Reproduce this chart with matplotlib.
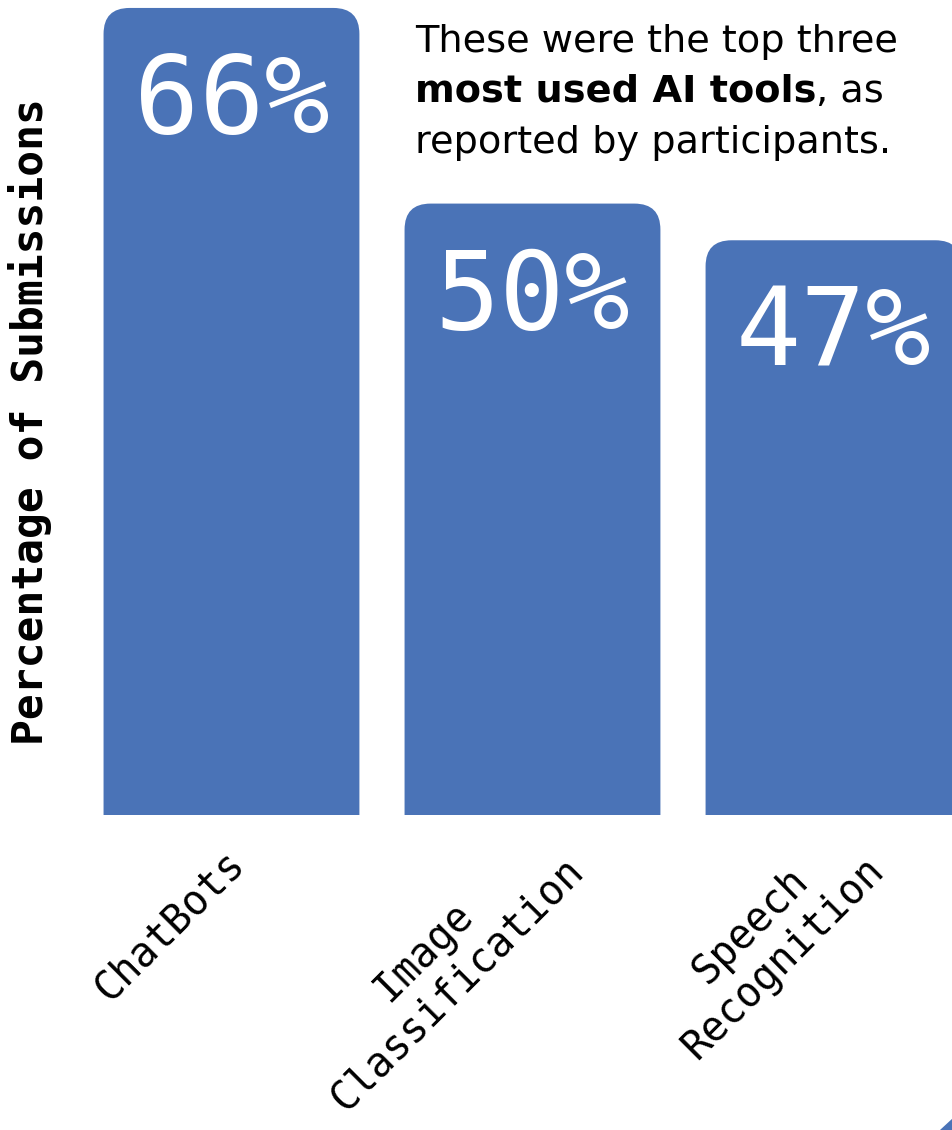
import matplotlib
matplotlib.use("Agg")
import matplotlib.pyplot as plt
import matplotlib.transforms as mtransforms
from matplotlib.patches import FancyBboxPatch, Polygon

# data
tools = ["ChatBots", "Image\nClassification", "Speech\nRecognition"]
shares = [66, 50, 47]
value_labels = ["66%", "50%", "47%"]

bar_color = "#4a73b7"
mono = "DejaVu Sans Mono"

fig = plt.figure(figsize=(9.53, 11.3), dpi=100)
ax = fig.add_axes([0, 0.2788, 1, 0.7212])
ax.set_xlim(-0.769, 2.397)
ax.set_ylim(0, 66.65)

width = 0.85
# px per data unit, used to keep the corner radius round
px_x = 953 / (2.397 + 0.769)
px_y = 1130 * 0.7212 / 66.65
r = 26 / px_x

for i, (v, lab) in enumerate(zip(shares, value_labels)):
    box = FancyBboxPatch((i - width / 2, -10), width, v + 10,
                         boxstyle=f"round,pad=0,rounding_size={r}",
                         mutation_aspect=px_x / px_y,
                         fc=bar_color, ec="none")
    ax.add_patch(box)
    ax.annotate(lab, xy=(i, v), xytext=(0, -90), textcoords="offset points",
                ha="center", va="baseline", color="white",
                fontsize=78, family=mono)

ax.set_xticks(range(len(tools)))
ax.set_xticklabels(tools, rotation=45, ha="right", va="center",
                   rotation_mode="anchor", multialignment="center",
                   family=mono, fontsize=29)
ax.tick_params(axis="x", length=0, pad=31)
# nudge labels so they sit like the original
for t, lab in zip(ax.get_xticklabels(), tools):
    if "\n" in lab:
        off = mtransforms.ScaledTranslation(0.28, 0.10, fig.dpi_scale_trans)
    else:
        off = mtransforms.ScaledTranslation(0.07, 0.0, fig.dpi_scale_trans)
    t.set_transform(t.get_transform() + off)
ax.set_yticks([])
for s in ax.spines.values():
    s.set_visible(False)

fig.text(30 / 953, (1130 - 422) / 1130, "Percentage of Submissions",
         rotation=90, ha="center", va="center", family=mono, fontsize=31,
         fontweight="bold")

# note text
tfont = "DejaVu Sans"
fs = 27.5
x0 = 415 / 953
ax.text(x0, (1130 - 52) / 1130, "These were the top three",
        transform=fig.transFigure, fontsize=fs, family=tfont, va="baseline")
b = ax.text(x0, (1130 - 102) / 1130, "most used AI tools",
            transform=fig.transFigure, fontsize=fs, family=tfont,
            fontweight="bold", va="baseline")
ax.annotate(", as", xy=(1, 0), xycoords=b, xytext=(0, 0),
            textcoords="offset points", fontsize=fs, family=tfont, va="bottom")
ax.text(x0, (1130 - 153) / 1130, "reported by participants.",
        transform=fig.transFigure, fontsize=fs, family=tfont, va="baseline")

# corner decoration
fig.patches.append(Polygon([(940 / 953, 0), (1, 12 / 1130), (1, 0)],
                           closed=True, transform=fig.transFigure,
                           fc=bar_color, ec="none"))

fig.savefig("out.png", dpi=100)
